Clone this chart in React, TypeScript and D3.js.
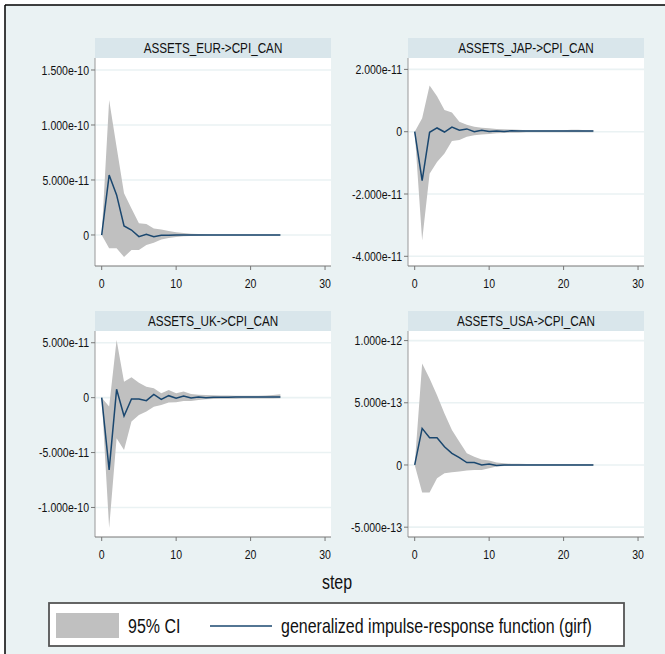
import * as d3 from "d3";

// irf steps
const steps = [0, 1, 2, 3, 4, 5, 6, 7, 8, 9, 10, 11, 12, 13, 14, 15, 16, 17, 18, 19, 20, 21, 22, 23, 24];

// values below are in units of 1e-11 (EUR, JAP, UK) and 1e-13 (USA)
const eurIrf = [0, 5.45, 3.64, 0.82, 0.45, -0.15, 0.06, -0.15, -0.03, -0.03, 0, 0, 0, 0, 0, 0, 0, 0, 0, 0, 0, 0, 0, 0, 0];
const eurHi = [0, 12.27, 8.0, 3.8, 2.4, 1.06, 1.0, 0.6, 0.5, 0.36, 0.24, 0.18, 0.12, 0.08, 0.06, 0.05, 0.05, 0.04, 0.04, 0.04, 0.04, 0.04, 0.04, 0.04, 0.04];
const eurLo = [0, -1.2, -1.2, -2.0, -1.36, -1.36, -0.9, -0.7, -0.4, -0.27, -0.18, -0.12, -0.09, -0.06, -0.05, -0.04, -0.04, -0.04, -0.04, -0.04, -0.04, -0.04, -0.04, -0.04, -0.04];

const japIrf = [0, -1.57, -0.02, 0.12, -0.01, 0.15, 0.05, 0.09, 0, 0.05, 0.01, 0.02, 0.01, 0.03, 0.02, 0.02, 0.02, 0.02, 0.02, 0.02, 0.02, 0.02, 0.02, 0.02, 0.02];
const japHi = [0, 0.43, 1.48, 1.14, 0.7, 0.62, 0.32, 0.22, 0.16, 0.13, 0.11, 0.09, 0.08, 0.07, 0.06, 0.05, 0.05, 0.05, 0.05, 0.05, 0.05, 0.06, 0.06, 0.05, 0.05];
const japLo = [0, -3.49, -1.35, -0.97, -0.7, -0.3, -0.27, -0.16, -0.11, -0.09, -0.07, -0.05, -0.04, -0.03, -0.03, -0.02, -0.02, -0.02, -0.02, -0.02, -0.02, -0.02, -0.02, -0.02, -0.02];

const ukIrf = [0, -6.58, 0.76, -1.67, -0.12, -0.12, -0.27, 0.3, -0.15, 0.18, -0.06, 0.15, -0.03, 0.06, 0, 0.03, 0.04, 0.04, 0.05, 0.05, 0.05, 0.05, 0.05, 0.06, 0.06];
const ukHi = [0, -0.8, 5.24, 1.45, 1.85, 1.36, 1.0, 0.85, 0.39, 0.7, 0.39, 0.55, 0.33, 0.27, 0.24, 0.22, 0.2, 0.2, 0.18, 0.18, 0.17, 0.17, 0.2, 0.25, 0.3];
const ukLo = [0, -11.88, -3.7, -4.76, -2.18, -1.58, -1.27, -0.82, -0.67, -0.45, -0.42, -0.3, -0.3, -0.21, -0.15, -0.12, -0.1, -0.1, -0.1, -0.08, -0.08, -0.08, -0.08, -0.08, -0.06];

const usaIrf = [0, 2.94, 2.19, 2.19, 1.47, 0.94, 0.59, 0.19, 0.19, 0, 0.08, -0.05, 0, 0, 0, 0, 0, 0, 0, 0, 0, 0, 0, 0, 0];
const usaHi = [0, 8.16, 6.95, 5.61, 4.14, 2.81, 1.87, 0.94, 0.67, 0.45, 0.35, 0.19, 0.13, 0.1, 0.09, 0.08, 0.08, 0.08, 0.08, 0.08, 0.08, 0.08, 0.08, 0.08, 0.08];
const usaLo = [0, -2.22, -2.22, -1.07, -0.67, -0.59, -0.53, -0.45, -0.4, -0.4, -0.27, -0.13, -0.08, -0.06, -0.05, -0.05, -0.05, -0.05, -0.05, -0.05, -0.05, -0.05, -0.05, -0.05, -0.05];

const titles = ["ASSETS_EUR->CPI_CAN", "ASSETS_JAP->CPI_CAN", "ASSETS_UK->CPI_CAN", "ASSETS_USA->CPI_CAN"];
const yTicks = [[15, 10, 5, 0], [2, 0, -2, -4], [5, 0, -5, -10], [10, 5, 0, -5]];
const yTickLabels = [
  ["1.500e-10", "1.000e-10", "5.000e-11", "0"],
  ["2.000e-11", "0", "-2.000e-11", "-4.000e-11"],
  ["5.000e-11", "0", "-5.000e-11", "-1.000e-10"],
  ["1.000e-12", "5.000e-13", "0", "-5.000e-13"],
];
const yDomains = [[-2.82, 16.09], [-4.311, 2.366], [-12.69, 6.07], [-5.79, 10.77]];
const xTicks = [0, 10, 20, 30];

const panels = [
  { irf: eurIrf, lo: eurLo, hi: eurHi },
  { irf: japIrf, lo: japLo, hi: japHi },
  { irf: ukIrf, lo: ukLo, hi: ukHi },
  { irf: usaIrf, lo: usaLo, hi: usaHi },
];

const W = 665;
const H = 654;
const COL_X = [95, 408];
const ROW_Y = [58, 331];
const PW = 236;
const PH = [208, 206];
const STRIP_H = 20;
const SX = 0.78; // horizontal squeeze of the text
const FONT = "'Liberation Sans', Arial, sans-serif";
const BG = "#eaf2f3";
const NAVY = "#1a476f";

const T = ({ x, y, size, anchor = "start", children }: any) => (
  <text
    transform={`translate(${x},${y}) scale(${SX},1)`}
    fontSize={size}
    textAnchor={anchor}
    fontFamily={FONT}
    fill="#111"
  >
    {children}
  </text>
);

const Panel = ({ i }: { i: number }) => {
  const col = i % 2;
  const row = Math.floor(i / 2);
  const left = COL_X[col];
  const top = ROW_Y[row];
  const h = PH[row];
  const x = d3.scaleLinear().domain([-0.9, 30.8]).range([left, left + PW]);
  const y = d3.scaleLinear().domain(yDomains[i]).range([top + h, top]);
  const p = panels[i];

  const area = d3
    .area<number>()
    .x((d) => x(d))
    .y0((d) => y(p.lo[d]))
    .y1((d) => y(p.hi[d]));
  const line = d3
    .line<number>()
    .x((d) => x(d))
    .y((d) => y(p.irf[d]));

  return (
    <g>
      <rect x={left} y={top - STRIP_H} width={PW} height={STRIP_H} fill="#d9e6eb" />
      <T x={left + PW / 2} y={top - 5} size={15} anchor="middle">
        {titles[i]}
      </T>
      <rect x={left} y={top} width={PW} height={h} fill="#fff" />
      {yTicks[i].map((t) => (
        <line key={"g" + t} x1={left} x2={left + PW} y1={y(t)} y2={y(t)} stroke={BG} strokeWidth={1.6} />
      ))}
      <path d={area(steps) ?? ""} fill="#c0c0c0" />
      <path d={line(steps) ?? ""} fill="none" stroke={NAVY} strokeWidth={1.5} />
      <line x1={left} x2={left} y1={top} y2={top + h} stroke="#999" strokeWidth={1} />
      <line x1={left} x2={left + PW} y1={top + h} y2={top + h} stroke="#777" strokeWidth={1} />
      {yTicks[i].map((t, k) => (
        <g key={"y" + t}>
          <line x1={left - 4} x2={left} y1={y(t)} y2={y(t)} stroke="#777" />
          <T x={left - 6} y={y(t) + 4.7} size={13.5} anchor="end">
            {yTickLabels[i][k]}
          </T>
        </g>
      ))}
      {xTicks.map((t) => (
        <g key={"x" + t}>
          <line x1={x(t)} x2={x(t)} y1={top + h} y2={top + h + 4} stroke="#777" />
          <T x={x(t)} y={top + h + 22} size={13.5} anchor="middle">
            {t}
          </T>
        </g>
      ))}
    </g>
  );
};

export default function App() {
  return (
    <svg
      width={W}
      height={H}
      style={{ position: "absolute", left: 0, top: 0, display: "block" }}
    >
      <rect x={0} y={0} width={W} height={H} fill="#fff" />
      <rect x={5} y={5} width={W - 5} height={H - 5} fill={BG} />
      <line x1={5} x2={W} y1={5} y2={5} stroke="#000" strokeWidth={1.5} />
      <line x1={5} x2={5} y1={5} y2={H} stroke="#000" strokeWidth={1.5} />
      {panels.map((_, i) => (
        <Panel key={i} i={i} />
      ))}
      <T x={337} y={589} size={20.5} anchor="middle">
        step
      </T>
      <rect x={49} y={603} width={575} height={43} fill="#fff" stroke="#555" strokeWidth={1.8} />
      <rect x={56} y={613} width={63} height={25} fill="#c0c0c0" />
      <T x={128} y={633} size={20.5}>
        95% CI
      </T>
      <line x1={210} x2={272} y1={626} y2={626} stroke={NAVY} strokeWidth={1.5} />
      <T x={281} y={633} size={20.5}>
        generalized impulse-response function (girf)
      </T>
    </svg>
  );
}
